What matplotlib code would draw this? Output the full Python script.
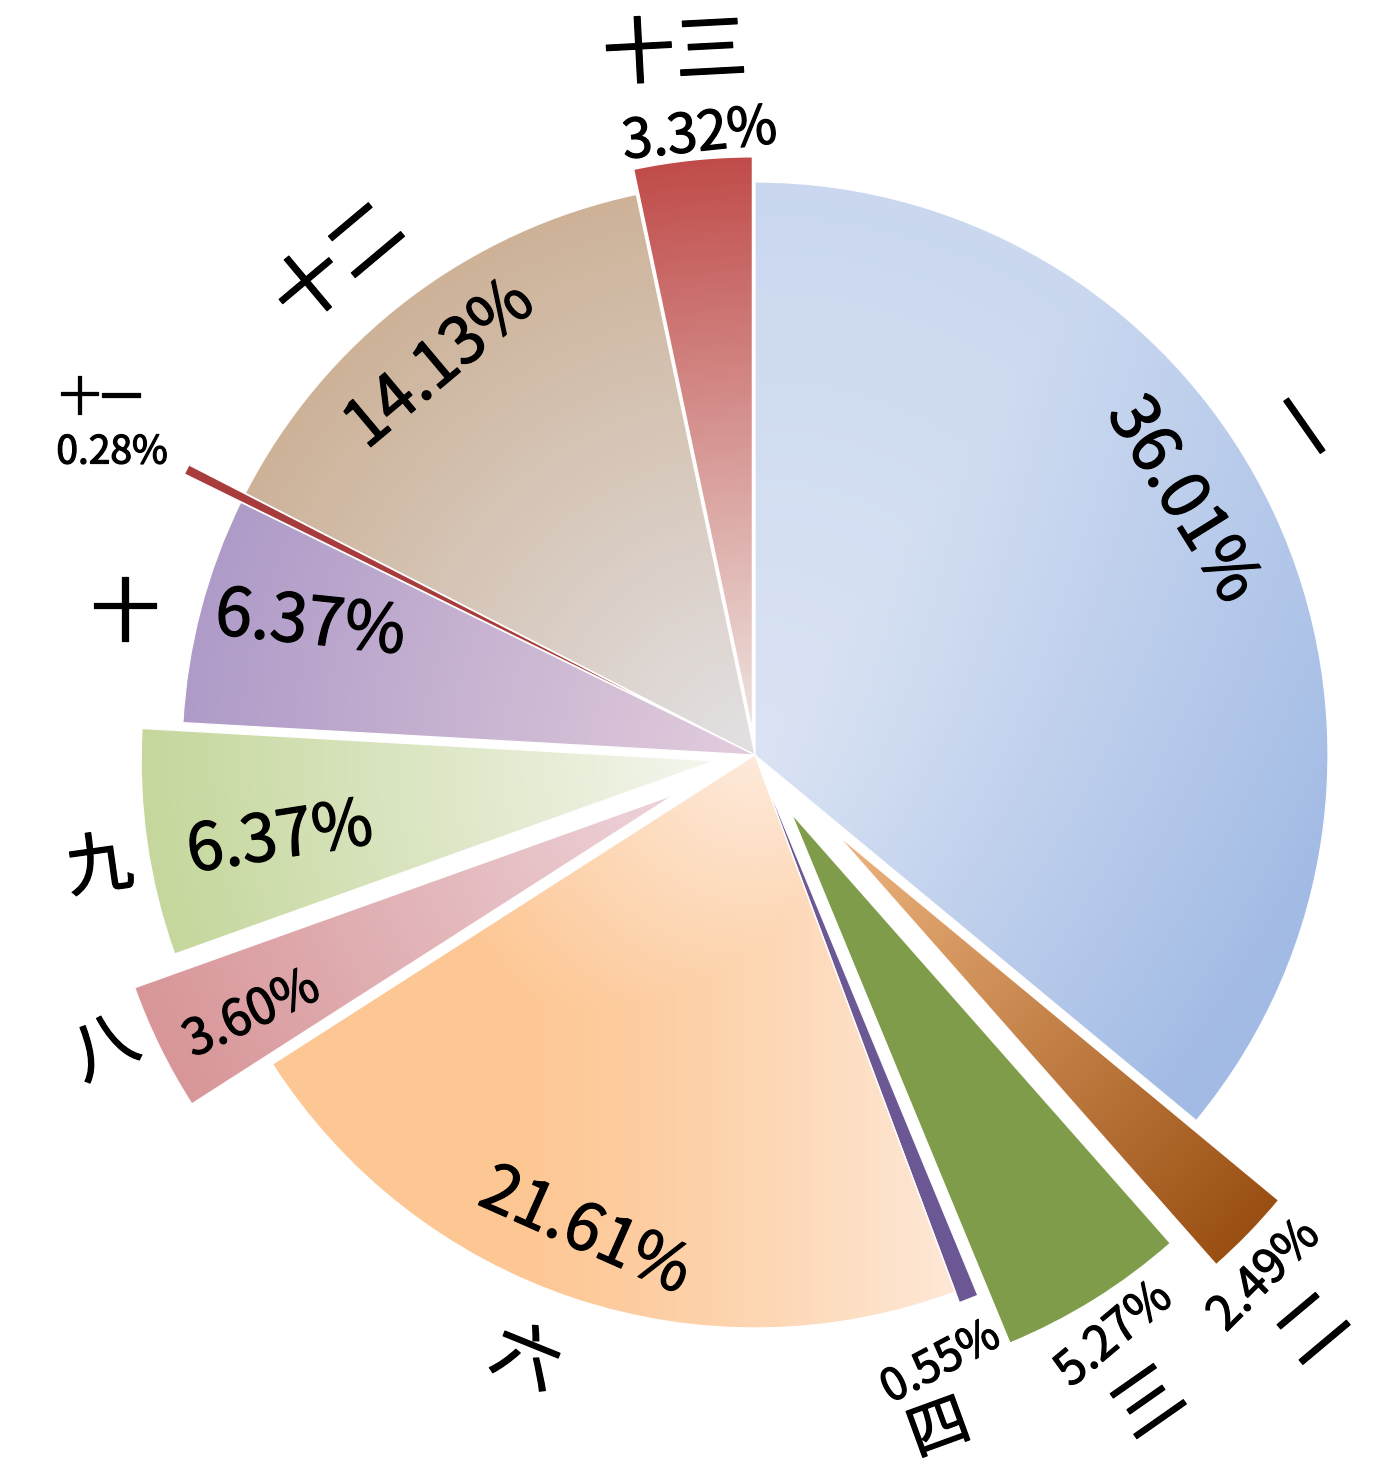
import numpy as np
import matplotlib
matplotlib.use('Agg')
import matplotlib.pyplot as plt
import matplotlib.patheffects as pe
from matplotlib.patches import Wedge
from matplotlib.colors import to_rgb

plt.rcParams['font.family'] = ['Noto Sans CJK SC', 'DejaVu Sans']

# ---- data ----
categories = ['一', '二', '三', '四', '六', '八', '九', '十', '十一', '十二', '十三']
shares = [36.01, 2.49, 5.27, 0.55, 21.61, 3.60, 6.37, 6.37, 0.28, 14.13, 3.32]
pct_labels = [f'{v:.2f}%' for v in shares]

# ---- layout / style ----
explode = [0, 0.20, 0.12, 0.02, 0, 0.157, 0.072, 0, 0.11, 0, 0.044]

# gradient styles: (kind, inner colour, outer colour)
styles = [
    ('one', '#dbe4f4', '#a2bbe5'),
    ('radial', '#eab07a', '#9a4f12'),
    ('radial', '#809d4b', '#7e9c49'),
    ('radial', '#6d5995', '#6b5793'),
    ('six', '#fdc794', '#feeadb'),
    ('radial', '#ecd0d6', '#d89698'),
    ('radial', '#f2f5ea', '#c5d79c'),
    ('radial', '#e0cadb', '#ae9bc8'),
    ('radial', '#a83c3c', '#a83c3c'),
    ('radial', '#e2dfe0', '#cdb298'),
    ('radial', '#ecdcd8', '#c04c4a'),
]

# label placement (polar angle deg, radius, rotation, fontsize)
cat_pos = [
    (30.9, 1.105, -55, 50),
    (-45.8, 1.401, 40, 50),
    (-58.7, 1.327, 35, 50),
    (-74.7, 1.221, 20, 44),
    (-110.8, 1.130, -22, 48),
    (-155.6, 1.246, 25, 48),
    (-170.2, 1.160, 8, 48),
    (167.5, 1.126, 0, 50),
    (151.5, 1.300, 0, 30),
    (130.3, 1.120, 40, 52),
    (96.5, 1.230, 3, 52),
]
pct_pos = [
    (30.8, 0.868, -58, 48),
    (-45.6, 1.271, 45, 34),
    (-58.2, 1.190, 40, 34),
    (-73.0, 1.108, 28, 32),
    (-109.6, 0.884, -24, 47),
    (-152.7, 0.988, 25, 36),
    (-169.9, 0.842, 9, 47),
    (163.7, 0.809, -6, 48),
    (154.8, 1.240, 0, 28),
    (128.9, 0.875, 40, 47),
    (95.1, 1.086, 6, 39),
]

W, H = 1397, 1468
CX, CY, R = 755, 755, 573

fig = plt.figure(figsize=(W / 100, H / 100), dpi=100)
ax = fig.add_axes([0, 0, 1, 1])
wedges, _ = ax.pie(shares, explode=explode, startangle=90, counterclock=False,
                   radius=1, wedgeprops=dict(linewidth=0))
ax.set_xlim(-CX / R, (W - CX) / R)
ax.set_ylim(-(H - CY) / R, CY / R)
ax.set_aspect('equal', adjustable='datalim')
ax.axis('off')

res = 500
for i, w in enumerate(wedges):
    kind, cin, cout = styles[i]
    cin = np.array(to_rgb(cin))
    cout = np.array(to_rgb(cout))
    w.set_facecolor(cout)
    cx, cy = w.center
    x0, x1 = cx - 1.05, cx + 1.05
    y0, y1 = cy - 1.05, cy + 1.05
    n = int(2.1 * res)
    xs = np.linspace(x0, x1, n)
    ys = np.linspace(y0, y1, n)
    X, Y = np.meshgrid(xs, ys)
    rl = np.hypot(X - cx, Y - cy) / w.r
    if kind == 'radial':
        t = np.clip((rl - 0.05) / 0.95, 0, 1)
    elif kind == 'one':
        a = np.deg2rad(-35)
        proj = X * np.cos(a) + Y * np.sin(a)
        t = np.clip(0.3 * rl + 0.75 * np.maximum(proj, 0), 0, 1)
    else:  # six: saturated on the left, pale to the right and near the centre
        tx = np.clip((X + 0.42) / 0.8, 0, 1) ** 1.3
        tr = np.clip(1 - 1.7 * rl, 0, 1)
        t = np.maximum(tx, tr)
    img = cin[None, None, :] * (1 - t)[..., None] + cout[None, None, :] * t[..., None]
    im = ax.imshow(img, extent=(x0, x1, y0, y1), origin='lower',
                   interpolation='bilinear', zorder=2)
    im.set_clip_path(w)
    outline = Wedge(w.center, w.r, w.theta1, w.theta2, facecolor='none',
                    edgecolor='white', linewidth=0.9, zorder=3)
    ax.add_patch(outline)

fx = [pe.withStroke(linewidth=0.9, foreground='black')]
for i in range(len(categories)):
    ang, r, rot, fs = cat_pos[i]
    ax.text(r * np.cos(np.deg2rad(ang)), r * np.sin(np.deg2rad(ang)), categories[i],
            rotation=rot, rotation_mode='anchor', ha='center', va='center',
            fontsize=fs, color='black', zorder=5, path_effects=fx)
    ang, r, rot, fs = pct_pos[i]
    ax.text(r * np.cos(np.deg2rad(ang)), r * np.sin(np.deg2rad(ang)), pct_labels[i],
            rotation=rot, rotation_mode='anchor', ha='center', va='center',
            fontsize=fs, color='black', zorder=5, path_effects=fx)

fig.savefig('out.png', dpi=100, facecolor='white')
